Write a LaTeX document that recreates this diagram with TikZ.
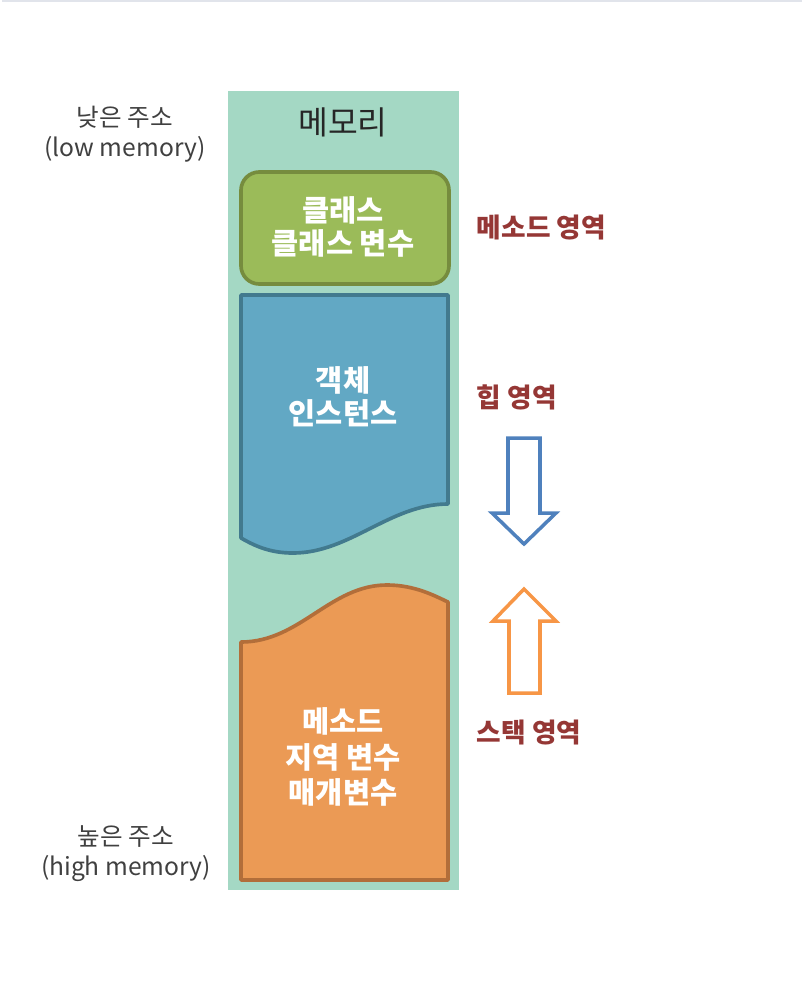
\documentclass[tikz,border=0pt]{standalone}
\usepackage{fontspec}
\setmainfont{Noto Sans CJK KR}
\usetikzlibrary{positioning}
\definecolor{memteal}{RGB}{164,216,196}
\definecolor{classgreen}{RGB}{155,187,89}
\definecolor{classline}{RGB}{118,140,62}
\definecolor{heapblue}{RGB}{98,168,196}
\definecolor{heapline}{RGB}{66,122,142}
\definecolor{stackorange}{RGB}{235,154,85}
\definecolor{stackline}{RGB}{178,110,58}
\definecolor{arrowblue}{RGB}{79,129,189}
\definecolor{arroworange}{RGB}{247,150,70}
\definecolor{labelred}{RGB}{149,55,53}
\definecolor{labelgray}{RGB}{64,64,64}
\definecolor{topgray}{RGB}{225,228,235}
\definecolor{memblack}{RGB}{38,38,38}
\begin{document}
\begin{tikzpicture}[x=0.025cm,y=-0.025cm,
  boxtext/.style={text=white,align=center,font=\fontsize{21}{23.5}\selectfont\bfseries},
  addrtext/.style={text=labelgray,align=center,font=\fontsize{17.5}{21.5}\selectfont},
  areatext/.style={text=labelred,anchor=west,font=\fontsize{19}{22}\selectfont\bfseries}]
\useasboundingbox (0,0) rectangle (802,988);
\draw[topgray,line width=1pt] (2,1) -- (802,1);
% memory column
\fill[memteal] (228,91) rectangle (459,890);
\node[text=memblack,font=\fontsize{23}{26}\selectfont] (mem) at (343,122) {메모리};
% method area
\draw[fill=classgreen,draw=classline,line width=2.6pt,rounded corners=13pt] (241,172) rectangle (449,284);
\node[boxtext] (class) at (343,227) {클래스\\클래스 변수};
% heap area
\draw[fill=heapblue,draw=heapline,line width=2.6pt,line join=round] (241,295) -- (448,295) -- (448,504)
  .. controls (390,504) and (350,553) .. (293,553) .. controls (270,553) and (255,546) .. (241,538) -- cycle;
\node[boxtext] (heap) at (343,397) {객체\\인스턴스};
% stack area
\draw[fill=stackorange,draw=stackline,line width=2.6pt,line join=round] (241,880) -- (241,642)
  .. controls (300,642) and (330,585) .. (387,585) .. controls (415,585) and (435,596) .. (448,602) -- (448,880) -- cycle;
\node[boxtext,font=\fontsize{21}{25}\selectfont\bfseries] (stack) at (343,757) {메소드\\지역 변수\\매개변수};
% address labels
\node[addrtext] (low) at (125,134) {낮은 주소\\(low memory)};
\node[addrtext] (high) at (126,854) {높은 주소\\(high memory)};
% area labels
\node[areatext] (methodlbl) at (472,228) {메소드 영역};
\node[areatext] (heaplbl) at (472,397) {힙 영역};
\node[areatext] (stacklbl) at (472,732) {스택 영역};
% growth arrows
\draw[arrowblue,fill=white,line width=2.5pt,line join=miter] (508,438) -- (540,438) -- (540,513) -- (556,513) -- (524,544) -- (492,513) -- (508,513) -- cycle;
\draw[arroworange,fill=white,line width=2.5pt,line join=miter] (509,693) -- (540,693) -- (540,621) -- (556,621) -- (524,589) -- (493,621) -- (509,621) -- cycle;
\end{tikzpicture}
\end{document}
